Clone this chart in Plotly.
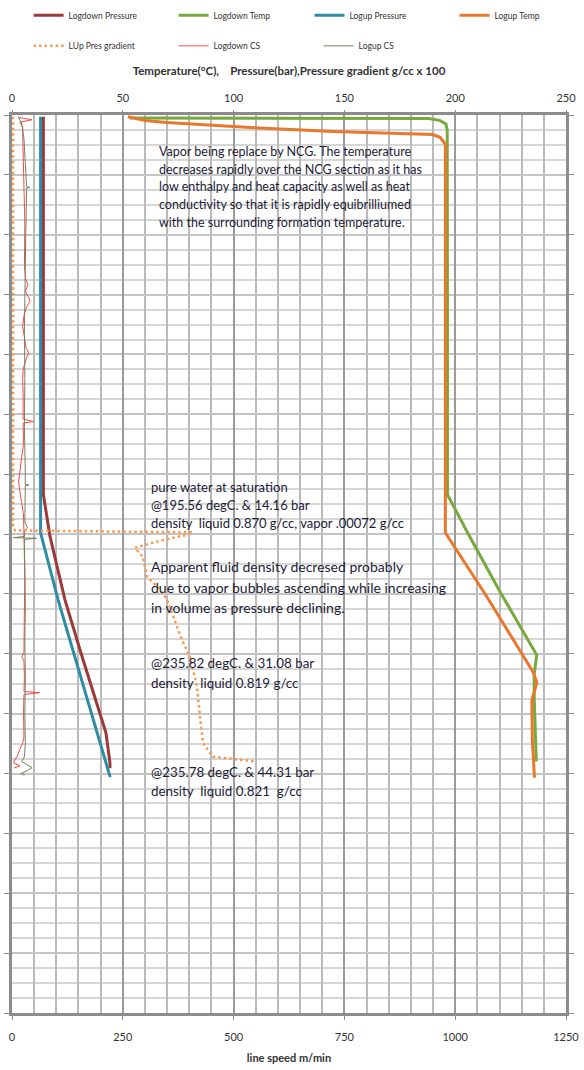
import plotly.graph_objects as go

# ---- Temperature / pressure logs (top axis: degC, bar, g/cc x 100), depth in m ----
logdown_temp_depth = [5, 5, 6, 9, 15, 25, 100, 300, 500, 634, 700, 800, 902, 915, 935, 980, 1040, 1080]
logdown_temp = [53, 150, 188, 193, 195.8, 196.4, 196.5, 196.5, 196.5, 196.5, 205.9, 220.8, 236.8, 236.2, 235.6, 235.7, 236.2, 236.6]

logup_temp_depth = [3, 9, 12.5, 21, 27.6, 32.6, 37.6, 49, 200, 400, 698, 800, 927, 937, 948, 977, 1044, 1107]
logup_temp = [52.3, 60, 69.9, 107.4, 144.8, 190, 193.3, 195.56, 195.56, 195.56, 195.56, 213.5, 234.6, 235.82, 236.9, 234.6, 234.8, 235.78]

logdown_pres_depth = [3, 200, 400, 634, 703, 810, 902, 1032, 1082, 1091]
logdown_pres = [14.16, 14.16, 14.16, 14.16, 17.1, 23.9, 31.4, 42.4, 44.2, 44.2]

logup_pres_depth = [3, 200, 400, 698, 810, 894, 937, 977, 1044, 1106]
logup_pres = [12.9, 12.9, 12.9, 12.9, 20.8, 27.5, 31.08, 34.3, 39.7, 44.31]

lup_grad_depth = [3, 100, 300, 500, 690, 694, 697, 702, 712, 723, 738, 771, 793, 810, 855, 877, 905, 955, 1005, 1049, 1072, 1080]
lup_grad = [0.5, 0.5, 0.5, 0.5, 0.5, 1.5, 81.5, 78, 66, 55.5, 59, 61, 66.8, 70, 74.4, 76.7, 80.3, 83.5, 84.8, 86.2, 90.7, 110.5]

# ---- Cable speed logs (bottom axis: m/min) ----
logdown_cs_depth = [4, 8, 12, 20, 60, 120, 180, 250, 275, 283, 295, 305, 312, 320, 335, 353, 375, 390,
                    397, 405, 425, 445, 464, 490, 508, 512, 515, 540, 556, 570, 584, 600, 613, 625, 639,
                    655, 668, 700, 740, 780, 820, 860, 898, 905, 912, 940, 963, 965, 968, 1000, 1039,
                    1050, 1060, 1068, 1075, 1082, 1087, 1091]
logdown_cs = [14, 45, 18, 24, 25, 27, 29, 28, 31, 36, 30, 38, 41, 33, 27, 24, 29, 32,
              38, 33, 25, 24, 25, 26, 25, 48, 25, 26, 25, 22, 20, 17, 15, 17, 20,
              24, 26, 27, 28, 29, 28, 28, 27, 22, 27, 28, 27, 62, 27, 26, 27,
              24, 17, 14, 9, 3, 18, 4]

logup_cs_depth = [3, 15, 40, 80, 120, 121, 122, 200, 280, 360, 440, 520, 600, 617, 618, 619, 680, 690,
                  695, 704, 706, 707, 709, 760, 820, 880, 940, 1000, 1050, 1072, 1080, 1090, 1095, 1100, 1103]
logup_cs = [14, 22, 27, 30, 33, 40, 33, 31, 29, 28, 29, 28, 30, 30, 38, 30, 29, 35,
            28, 28, 3, 55, 28, 29, 30, 29, 30, 29, 30, 28, 22, 45, 35, 20, 28]

# ---- Axis ticks ----
top_ticks = [0, 50, 100, 150, 200, 250]
bottom_ticks = [0, 250, 500, 750, 1000, 1250]
depth_ticks = list(range(0, 1501, 100))

FONT = "Lato"
TEXT = "#1c1c36"

fig = go.Figure()

top_series = [
    ("Logdown Pressure", logdown_pres, logdown_pres_depth, "#9b3a38", "legend"),
    ("Logdown Temp", logdown_temp, logdown_temp_depth, "#78a93e", "legend"),
    ("Logup Pressure", logup_pres, logup_pres_depth, "#2f8ba6", "legend3"),
    ("Logup Temp", logup_temp, logup_temp_depth, "#e8782e", "legend3"),
]
for name, xs, ys, color, leg in top_series:
    fig.add_trace(go.Scatter(x=xs, y=ys, name=name, mode="lines", xaxis="x2", yaxis="y",
                             line=dict(color=color, width=3), legend=leg))

fig.add_trace(go.Scatter(x=lup_grad, y=lup_grad_depth, name="LUp Pres gradient", mode="lines",
                         xaxis="x2", yaxis="y", legend="legend2",
                         line=dict(color="#f59a52", width=2.5, dash="2.5px,3px")))
fig.add_trace(go.Scatter(x=logdown_cs, y=logdown_cs_depth, name="Logdown CS", mode="lines",
                         xaxis="x", yaxis="y", legend="legend2",
                         line=dict(color="#f24a4a", width=1)))
fig.add_trace(go.Scatter(x=logup_cs, y=logup_cs_depth, name="Logup CS", mode="lines",
                         xaxis="x", yaxis="y", legend="legend2",
                         line=dict(color="#76825f", width=1)))

# Annotation text blocks: (x on top axis, first-line depth, line step in depth, font size, lines)
notes = [
    (65.5, 61, 29.5, 12.5, ["Vapor being replace by NCG. The temperature",
                            "decreases rapidly over the NCG section as it has",
                            "low enthalpy and heat capacity as well as heat",
                            "conductivity so that it is rapidly equibrilliumed",
                            "with the surrounding formation temperature."]),
    (62, 621, 30, 13, ["pure water at saturation",
                       "@195.56 degC. & 14.16 bar",
                       "density  liquid 0.870 g/cc, vapor .00072 g/cc"]),
    (62, 755, 34, 14, ["Apparent fluid density decresed probably",
                       "due to vapor bubbles ascending while increasing",
                       "in volume as pressure declining."]),
    (62, 915, 33, 13.4, ["@235.82 degC. & 31.08 bar",
                         "density  liquid 0.819 g/cc"]),
    (62, 1097, 32, 13.4, ["@235.78 degC. & 44.31 bar",
                          "density  liquid 0.821  g/cc"]),
]
annotations = []
for x0, d0, step, size, lines in notes:
    for i, line in enumerate(lines):
        annotations.append(dict(x=x0, y=d0 + i * step, xref="x2", yref="y", text=line,
                                showarrow=False, xanchor="left", yanchor="middle",
                                font=dict(family=FONT, size=size, color=TEXT)))

frame = "#8c8c8c"
legend_style = dict(orientation="h", xanchor="left", yanchor="middle",
                    entrywidth=100, entrywidthmode="pixels", itemwidth=30,
                    font=dict(family=FONT, size=8.5, color="#333333"),
                    bgcolor="rgba(0,0,0,0)")
fig.update_layout(
    width=584, height=1070,
    margin=dict(l=12, r=18, t=115, b=57, autoexpand=False),
    paper_bgcolor="white", plot_bgcolor="white",
    font=dict(family=FONT, color="#333333"),
    annotations=annotations,
    legend=dict(x=0.03, y=1.111, **legend_style),
    legend3=dict(x=0.537, y=1.111, **legend_style),
    legend2=dict(x=0.03, y=1.077, **legend_style),
    xaxis=dict(range=[0, 1250], tickvals=bottom_ticks, ticks="outside", ticklen=4,
               tickcolor=frame, showgrid=False, zeroline=False, ticklabelstandoff=8,
               showline=True, linewidth=3, linecolor=frame, mirror=True,
               tickfont=dict(family=FONT, size=11, color="#333333"),
               title=dict(text="<b>line speed m/min</b>", standoff=13,
                          font=dict(family=FONT, size=11, color="#333333"))),
    xaxis2=dict(range=[0, 250], tickvals=top_ticks, overlaying="x", side="top",
                ticks="outside", ticklen=4, tickcolor=frame, ticklabelstandoff=4,
                showgrid=True, gridcolor="#9a9a9a", gridwidth=1.5, zeroline=False,
                minor=dict(dtick=10, showgrid=True, gridcolor="#bababa", gridwidth=1.5, ticklen=0),
                tickfont=dict(family=FONT, size=11, color="#333333"),
                title=dict(text="<b>Temperature(\u00b0C),    Pressure(bar),Pressure gradient g/cc x 100</b>",
                           standoff=12, font=dict(family=FONT, size=11.5, color="#333333"))),
    yaxis=dict(range=[1500, 0], tickvals=depth_ticks, ticks="outside", ticklen=5,
               tickcolor=frame, showticklabels=False, zeroline=False,
               showgrid=True, gridcolor="#c4c4c4", gridwidth=1.5,
               minor=dict(dtick=25, showgrid=True, gridcolor="#d6d6d6", gridwidth=1.5, ticklen=0),
               showline=True, linewidth=3, linecolor=frame, mirror="ticks"),
)

fig.write_html("out.html")
